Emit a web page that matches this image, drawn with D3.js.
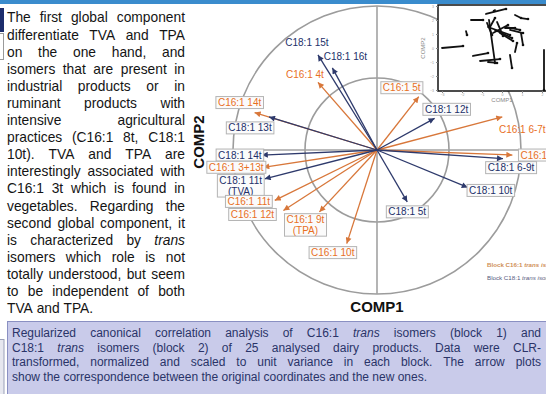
<!DOCTYPE html>
<html><head><meta charset="utf-8">
<script src="https://cdn.jsdelivr.net/npm/d3@7"></script>
<style>
html,body{margin:0;padding:0;background:#fff;overflow:hidden;}
svg{display:block;}
text{font-family:"Liberation Sans",Arial,Helvetica,sans-serif;}
</style></head><body>
<svg id="c" width="546" height="394"></svg>
<script>
// ---- Block 2: C18:1 trans isomers, loadings on the two canonical components
const c18Names = ["C18:1 15t","C18:1 16t","C18:1 13t","C18:1 14t","C18:1 11t|(TVA)","C18:1 5t","C18:1 10t","C18:1 6-9t","C18:1 12t"];
const c18Comp1 = [-0.41,-0.31,-0.75,-0.80,-0.78,0.21,0.63,0.875,0.40];
const c18Comp2 = [0.66,0.57,0.23,-0.035,-0.20,-0.36,-0.26,-0.06,0.22];

// ---- Block 1: C16:1 trans isomers
const c16Names = ["C16:1 4t","C16:1 14t","C16:1 3+13t","C16:1 11t","C16:1 12t","C16:1 9t|(TPA)","C16:1 10t","C16:1 5t","C16:1 6-7t","C16:1 8t"];
const c16Comp1 = [-0.41,-0.85,-0.79,-0.71,-0.65,-0.40,-0.21,0.29,0.87,0.94];
const c16Comp2 = [0.47,0.26,-0.12,-0.35,-0.42,-0.43,-0.65,0.37,0.23,-0.035];

// ---- Arrow plot of the 25 dairy products (original -> new coordinates)
const insetX0 = [-3.0,-1.8,-0.35,-0.8,-1.55,-0.65,-0.6,-0.7,-0.45,-0.35,0.15,0.4,0.65,0.95,-1.45,-1.1,-0.7,0.4,0.65,0.95,-0.1,-0.25,-0.75,0.2,2.1];
const insetY0 = [0.0,1.21,2.71,2.43,2.0,2.0,1.5,1.5,1.07,1.29,1.43,1.29,2.36,2.14,-0.57,-0.93,-1.0,-0.5,-0.29,1.07,1.07,1.86,1.79,1.5,-0.14];
const insetX1 = [-1.95,-1.75,-0.4,0.2,-0.95,-0.35,-0.35,0.4,0.3,0.5,0.65,1.05,0.95,1.3,-0.7,-0.1,-0.25,0.5,0.75,1.05,0.55,0.05,-0.5,0.9,2.1];
const insetY1 = [0.14,0.93,2.64,2.79,2.0,-1.07,2.14,0.93,1.64,0.71,1.43,1.07,2.14,2.07,-0.36,-0.79,-1.07,-1.43,0.36,0.21,0.5,0.86,0.93,1.29,-3.0];
const insetXTicks = [-3,-2,-1,0,1,2];
const insetYTicks = [-3,-2,-1,0,1,2,3];

// ---- Texts
const sideText = [
  "The first global component",
  "differentiate TVA and TPA",
  "on the one hand, and",
  "isomers that are present in",
  "industrial products or in",
  "ruminant products with",
  "intensive agricultural",
  "practices (C16:1 8t, C18:1",
  "10t). TVA and TPA are",
  "interestingly associated with",
  "C16:1 3t which is found in",
  "vegetables. Regarding the",
  "second global component, it",
  "is characterized by *trans*",
  "isomers which role is not",
  "totally understood, but seem",
  "to be independent of both",
  "TVA and TPA."
];
const captionText = [
  "Regularized canonical correlation analysis of C16:1 *trans* isomers (block 1) and",
  "C18:1 *trans* isomers (block 2) of 25 analysed dairy products. Data were CLR-",
  "transformed, normalized and scaled to unit variance in each block. The arrow plots",
  "show the correspondence between the original coordinates and the new ones."
];
const legendLabels = ["Block C16:1 ", "Block C18:1 "];

// ---- Label placement (pixel offset of label centre from arrow tip) and framing
const c18LabelOff = [[-11,-12],[13,-11],[-19,11],[-22,0],[-24,7],[0,10],[23,3],[8,9],[12,-9]];
const c18Boxed = [false,false,true,true,true,true,true,true,true];
const c16LabelOff = [[-13,-8],[-15,-10],[-27,0],[-26,1],[-31,4],[-14,13],[-14,9],[-17,-9],[20,13],[27,0]];
const c16Boxed = [false,true,true,true,true,true,true,true,false,true];

const NAVY = "#2e3a6c", ORANGE = "#d8773a";
const NAVY_TXT = "#22306a", ORANGE_TXT = "#e8701f";

const svg = d3.select("#c");

// ---- page decorations
svg.append("rect").attr("x",0).attr("y",0).attr("width",546).attr("height",4).attr("fill","#3a8ccd");
svg.append("rect").attr("x",0).attr("y",8).attr("width",4).attr("height",24).attr("fill","#1c2d6c");
svg.append("rect").attr("x",-1).attr("y",33.5).attr("width",4.5).attr("height",26).attr("fill","none").attr("stroke","#9a9a9a");
svg.append("rect").attr("x",-1).attr("y",339.5).attr("width",5).attr("height",60).attr("fill","#e6e7ef").attr("stroke","#9aa0b8");

// ---- justified text helper (sx: horizontal glyph scale)
function justify(parent, lines, x, y0, lh, width, size, color, sx) {
  const g = parent.append("g").attr("transform", `translate(${x},0) scale(${sx},1)`);
  const W = width / sx;
  lines.forEach((line, li) => {
    const words = line.split(" ").map(w => {
      const it = /^\*.*\*$/.test(w);
      return {t: it ? w.slice(1,-1) : w, it};
    });
    const nodes = words.map(w => g.append("text")
      .attr("y", y0 + li*lh).attr("font-size", size).attr("fill", color)
      .attr("font-style", w.it ? "italic" : "normal").text(w.t));
    const ws = nodes.map(n => n.node().getComputedTextLength());
    const total = d3.sum(ws);
    const last = li === lines.length - 1;
    const sp = size * 0.278;
    const gap = (!last && words.length > 1) ? Math.max(2, (W - total) / (words.length - 1)) : sp;
    let cx = 0;
    nodes.forEach((n,i) => { n.attr("x", cx); cx += ws[i] + gap; });
  });
}

justify(svg, sideText, 7, 22.5, 17.1, 178, 15, "#141414", 0.92);

// ---- correlation circle
const cx0 = 377, cy0 = 150, R = 144;
const x = d3.scaleLinear().domain([-1,1]).range([cx0-R, cx0+R]);
const y = d3.scaleLinear().domain([-1,1]).range([cy0+R, cy0-R]);
const plot = svg.append("g");

[1, 0.5].forEach(r => plot.append("circle")
  .attr("cx", x(0)).attr("cy", y(0)).attr("r", x(r)-x(0))
  .attr("fill","none").attr("stroke","#9c9c9c").attr("stroke-width",1.6));
plot.append("line").attr("x1",x(-1)).attr("x2",x(1)).attr("y1",y(0)).attr("y2",y(0))
  .attr("stroke","#a2a2a2").attr("stroke-width",1.6);
plot.append("line").attr("x1",x(0)).attr("x2",x(0)).attr("y1",y(1)).attr("y2",y(-1))
  .attr("stroke","#a2a2a2").attr("stroke-width",1.6);

const defs = svg.append("defs");
[["hN",NAVY],["hO",ORANGE]].forEach(([id,col]) => {
  defs.append("marker").attr("id",id).attr("viewBox","0 0 10 10")
    .attr("refX",10).attr("refY",5).attr("markerUnits","userSpaceOnUse")
    .attr("markerWidth",7).attr("markerHeight",6).attr("orient","auto")
    .append("path").attr("d","M0,0L10,5L0,10z").attr("fill",col);
});

function arrows(c1, c2, col, mk) {
  plot.append("g").selectAll("line").data(c1).join("line")
    .attr("x1", x(0)).attr("y1", y(0))
    .attr("x2", d => x(d)).attr("y2", (d,i) => y(c2[i]))
    .attr("stroke", col).attr("stroke-width", 1.3)
    .attr("marker-end", `url(#${mk})`);
}
arrows(c16Comp1, c16Comp2, ORANGE, "hO");
arrows(c18Comp1, c18Comp2, NAVY, "hN");

function labels(names, c1, c2, off, boxed, col) {
  names.forEach((nm, i) => {
    const px = x(c1[i]) + off[i][0], py = y(c2[i]) + off[i][1];
    const g = plot.append("g");
    const parts = nm.split("|");
    const lh = 10.5;
    const t = g.append("text").attr("font-size", 10).attr("fill", col).attr("text-anchor","middle");
    parts.forEach((p, k) => t.append("tspan").attr("x", px)
      .attr("y", py + 3.5 + (k - (parts.length-1)/2) * lh).text(p));
    if (boxed[i]) {
      const bb = t.node().getBBox();
      g.insert("rect","text").attr("x", bb.x-2).attr("y", bb.y-0.5)
        .attr("width", bb.width+4).attr("height", bb.height+1)
        .attr("fill","#fbfbfb").attr("stroke","#b4b4b4").attr("stroke-width",1);
    }
  });
}
labels(c18Names, c18Comp1, c18Comp2, c18LabelOff, c18Boxed, NAVY_TXT);
labels(c16Names, c16Comp1, c16Comp2, c16LabelOff, c16Boxed, ORANGE_TXT);

// axis titles
svg.append("text").attr("x", x(0)).attr("y", 312).attr("text-anchor","middle")
  .attr("font-size",15).attr("font-weight","bold").attr("fill","#111").text("COMP1");
svg.append("text").attr("transform","translate(204,142) rotate(-90)").attr("text-anchor","middle")
  .attr("font-size",15).attr("font-weight","bold").attr("fill","#111").text("COMP2");

// legend
[ORANGE, "#555b7e"].forEach((col, i) => {
  const t = svg.append("text").attr("x",487).attr("y",267 + i*13).attr("font-size",6.2)
    .attr("font-weight", i===0 ? "bold" : "normal").attr("fill", i===0 ? "#cf9058" : col)
    .text(legendLabels[i]);
  t.append("tspan").attr("font-style","italic").text("trans isomers");
});

// ---- inset: arrow plot of samples
const ix = d3.scaleLinear().domain([-3,2]).range([442,542]);
const iy = d3.scaleLinear().domain([-3,3]).range([90,6]);
const inset = svg.append("g");
inset.append("rect").attr("x",438).attr("y",5).attr("width",130).attr("height",86)
  .attr("fill","#fff").attr("stroke","#111").attr("stroke-width",1.5);
inset.append("g").attr("transform","translate(0,91)")
  .call(d3.axisBottom(ix).tickValues(insetXTicks).tickSize(2).tickPadding(1).tickFormat(d3.format("d")))
  .call(g => { g.select(".domain").remove(); g.selectAll("text").attr("font-size",3.5).attr("fill","#999");
               g.selectAll("line").attr("stroke","#888"); });
inset.append("g").attr("transform","translate(438,0)")
  .call(d3.axisLeft(iy).tickValues(insetYTicks).tickSize(2).tickPadding(2).tickFormat(d3.format("d")))
  .call(g => { g.select(".domain").remove(); g.selectAll("text").attr("font-size",3.5).attr("fill","#999");
               g.selectAll("line").attr("stroke","#888"); });
inset.append("g").selectAll("line").data(insetX0).join("line")
  .attr("x1",d=>ix(d)).attr("y1",(d,i)=>iy(insetY0[i]))
  .attr("x2",(d,i)=>ix(insetX1[i])).attr("y2",(d,i)=>iy(insetY1[i]))
  .attr("stroke","#111").attr("stroke-width",1.8).attr("stroke-linecap","round");
inset.append("g").selectAll("circle").data(insetX1).join("circle")
  .attr("cx",d=>ix(d)).attr("cy",(d,i)=>iy(insetY1[i])).attr("r",1.3).attr("fill","#111");
svg.append("text").attr("x",502).attr("y",102).attr("text-anchor","middle")
  .attr("font-size",6).attr("fill","#888").text("COMP1");
svg.append("text").attr("transform","translate(425,48) rotate(-90)").attr("text-anchor","middle")
  .attr("font-size",6).attr("fill","#888").text("COMP2");

// ---- caption box
svg.append("rect").attr("x",7.5).attr("y",321.5).attr("width",545).attr("height",80)
  .attr("fill","#c9cbea").attr("stroke","#8a90c2").attr("stroke-width",1);
justify(svg, captionText, 12, 337, 14.5, 529, 12, "#2a3468", 1);
</script>
</body></html>
